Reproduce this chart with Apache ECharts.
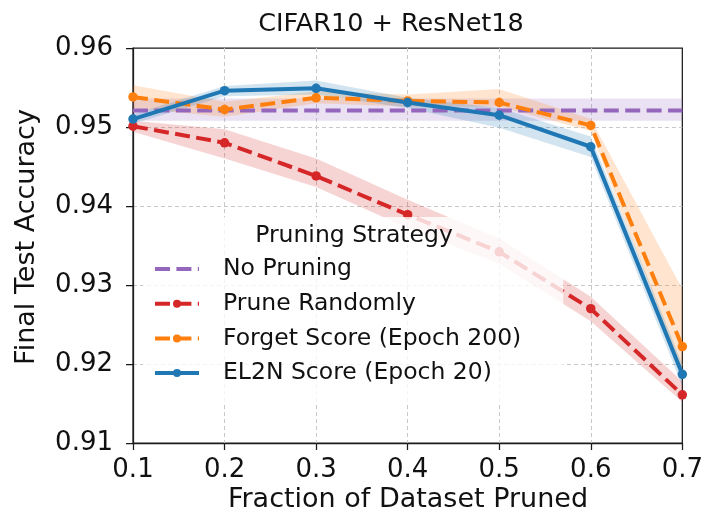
<!DOCTYPE html>
<html>
<head>
<meta charset="utf-8">
<script src="https://cdn.jsdelivr.net/npm/echarts@6/dist/echarts.min.js"></script>
<style>
html,body{margin:0;padding:0;background:#fff;}
#chart{width:706px;height:521px;}
</style>
</head>
<body>
<div id="chart"></div>
<script>
// ---- data ----
const fractions = [0.1, 0.2, 0.3, 0.4, 0.5, 0.6, 0.7];
const xTicks = [0.1, 0.2, 0.3, 0.4, 0.5, 0.6, 0.7];
const yTicks = [0.91, 0.92, 0.93, 0.94, 0.95, 0.96];

const noPruning      = [0.9521, 0.9521, 0.9521, 0.9521, 0.9521, 0.9521, 0.9521];
const noPruningLo    = [0.9508, 0.9508, 0.9508, 0.9508, 0.9508, 0.9508, 0.9508];
const noPruningHi    = [0.9536, 0.9536, 0.9536, 0.9536, 0.9536, 0.9536, 0.9536];

const randomPrune    = [0.9501, 0.9480, 0.9438, 0.9389, 0.9342, 0.9270, 0.9161];
const randomPruneLo  = [0.9494, 0.9460, 0.9424, 0.9372, 0.9327, 0.9254, 0.9152];
const randomPruneHi  = [0.9508, 0.9497, 0.9460, 0.9408, 0.9359, 0.9285, 0.9178];

const forgetScore    = [0.9538, 0.9522, 0.9537, 0.9533, 0.9531, 0.9502, 0.9222];
const forgetScoreLo  = [0.9524, 0.9513, 0.9530, 0.9526, 0.9526, 0.9495, 0.9190];
const forgetScoreHi  = [0.9553, 0.9532, 0.9545, 0.9541, 0.9548, 0.9510, 0.9295];

const el2nScore      = [0.9510, 0.9546, 0.9549, 0.9531, 0.9515, 0.9475, 0.9187];
const el2nScoreLo    = [0.9504, 0.9539, 0.9541, 0.9524, 0.9499, 0.9462, 0.9172];
const el2nScoreHi    = [0.9516, 0.9552, 0.9559, 0.9537, 0.9524, 0.9488, 0.9200];

const seriesNames = ['No Pruning', 'Prune Randomly', 'Forget Score (Epoch 200)', 'EL2N Score (Epoch 20)'];

// ---- styling ----
const FONT = 'DejaVu Sans';
const TXT = '#111111';
const C_PURPLE = '#9467bd', C_RED = '#d62728', C_ORANGE = '#ff7f0e', C_BLUE = '#1f77b4';
const DASH = [15, 6.4];

function band(lo, hi, fill) {
  return {
    type: 'custom',
    silent: true,
    clip: true,
    data: [[fractions[0], lo[0]]],
    encode: { x: 0, y: 1 },
    renderItem: function (params, api) {
      const pts = [];
      for (let i = 0; i < fractions.length; i++) pts.push(api.coord([fractions[i], hi[i]]));
      for (let i = fractions.length - 1; i >= 0; i--) pts.push(api.coord([fractions[i], lo[i]]));
      return { type: 'polygon', shape: { points: pts }, style: { fill: fill } };
    }
  };
}

function line(name, vals, color, dashed, markers) {
  return {
    type: 'line',
    name: name,
    data: fractions.map((x, i) => [x, vals[i]]),
    symbol: markers ? 'circle' : 'none',
    symbolSize: 9.5,
    showSymbol: markers,
    lineStyle: { color: color, width: 4, type: dashed ? DASH : 'solid' },
    itemStyle: { color: color },
    emphasis: { disabled: true }
  };
}

const chart = echarts.init(document.getElementById('chart'), null, { renderer: 'canvas' });

chart.setOption({
  animation: false,
  backgroundColor: '#ffffff',
  title: {
    text: 'CIFAR10 + ResNet18',
    left: 386,
    textAlign: 'center',
    top: 6,
    textStyle: { fontFamily: FONT, fontSize: 25.5, fontWeight: 'normal', color: TXT }
  },
  grid: {
    left: 133, right: 23, top: 48, bottom: 78,
    show: true, borderColor: '#1a1a1a', borderWidth: 1.25, backgroundColor: 'transparent'
  },
  xAxis: {
    type: 'value',
    min: 0.1, max: 0.7, interval: 0.1,
    axisLine: { show: true, lineStyle: { color: '#1a1a1a', width: 1.25 } },
    axisTick: { show: true, length: 7, lineStyle: { color: '#1a1a1a', width: 1.25 } },
    axisLabel: {
      margin: 14, fontFamily: FONT, fontSize: 26, color: TXT,
      formatter: v => { const t = xTicks.find(k => Math.abs(k - v) < 1e-9); return t !== undefined ? t.toFixed(1) : ''; }
    },
    splitLine: { show: true, showMinLine: false, showMaxLine: false, lineStyle: { color: '#c8c8c8', width: 1, type: [4, 3] } }
  },
  yAxis: {
    type: 'value',
    min: 0.91, max: 0.96, interval: 0.01,
    axisLine: { show: true, lineStyle: { color: '#1a1a1a', width: 1.25 } },
    axisTick: { show: true, length: 7, lineStyle: { color: '#1a1a1a', width: 1.25 } },
    axisLabel: {
      margin: 20, fontFamily: FONT, fontSize: 26, color: TXT,
      formatter: v => { const t = yTicks.find(k => Math.abs(k - v) < 1e-9); return t !== undefined ? t.toFixed(2) : ''; }
    },
    splitLine: { show: true, showMinLine: false, showMaxLine: false, lineStyle: { color: '#c8c8c8', width: 1, type: [4, 3] } }
  },
  legend: {
    data: [
      { name: seriesNames[0], itemStyle: { opacity: 0 } },
      { name: seriesNames[1] },
      { name: seriesNames[2] },
      { name: seriesNames[3] }
    ],
    orient: 'vertical',
    left: 143, top: 217,
    padding: [40, 42, 17, 10],
    itemWidth: 44, itemHeight: 10, itemGap: 10.7,
    backgroundColor: 'rgba(255,255,255,0.8)',
    borderRadius: 5,
    selectedMode: false,
    lineStyle: { width: 4 },
    textStyle: { fontFamily: FONT, fontSize: 23.5, lineHeight: 24, color: TXT, padding: [0, 0, 0, 19] }
  },
  graphic: [
    {
      type: 'text', z: 100,
      x: 354, y: 236,
      style: { text: 'Pruning Strategy', font: '23.5px "DejaVu Sans"', fill: TXT, textAlign: 'center', textVerticalAlign: 'middle' }
    },
    {
      type: 'text', z: 100,
      x: 27, y: 237, rotation: Math.PI / 2,
      style: { text: 'Final Test Accuracy', font: '27px "DejaVu Sans"', fill: TXT, textAlign: 'center', textVerticalAlign: 'middle' }
    },
    {
      type: 'text', z: 100,
      x: 408, y: 500,
      style: { text: 'Fraction of Dataset Pruned', font: '27px "DejaVu Sans"', fill: TXT, textAlign: 'center', textVerticalAlign: 'middle' }
    }
  ],
  series: [
    band(noPruningLo, noPruningHi, 'rgba(148,103,189,0.2)'),
    line(seriesNames[0], noPruning, C_PURPLE, true, false),
    band(randomPruneLo, randomPruneHi, 'rgba(214,39,40,0.2)'),
    line(seriesNames[1], randomPrune, C_RED, true, true),
    band(forgetScoreLo, forgetScoreHi, 'rgba(255,127,14,0.2)'),
    line(seriesNames[2], forgetScore, C_ORANGE, true, true),
    band(el2nScoreLo, el2nScoreHi, 'rgba(31,119,180,0.2)'),
    line(seriesNames[3], el2nScore, C_BLUE, false, true)
  ]
});
</script>
</body>
</html>
